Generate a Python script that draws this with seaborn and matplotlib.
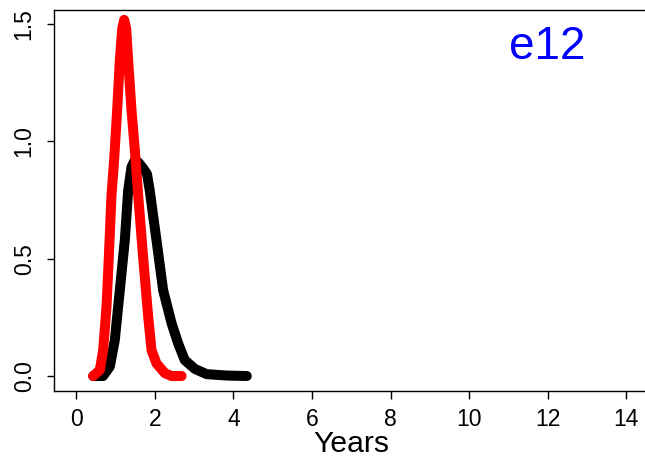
import matplotlib
matplotlib.use("Agg")
import matplotlib.pyplot as plt
import seaborn as sns
import pandas as pd

# Density curves over time (years)
black_years = [0.43, 0.68, 0.853, 0.98, 1.108, 1.236, 1.32, 1.405, 1.49, 1.58, 1.70,
               1.80, 1.87, 1.95, 2.04, 2.21, 2.425, 2.59, 2.76, 3.02, 3.32, 3.83, 4.34]
black_density = [0.0, 0.0, 0.04, 0.153, 0.366, 0.58, 0.79, 0.89, 0.92, 0.91, 0.885,
                 0.86, 0.79, 0.69, 0.58, 0.366, 0.225, 0.14, 0.068, 0.03, 0.008, 0.002, 0.0]

red_years = [0.43, 0.60, 0.683, 0.769, 0.828, 0.896, 0.963, 1.04, 1.108, 1.17, 1.218,
             1.27, 1.32, 1.405, 1.49, 1.575, 1.70, 1.83, 1.915, 2.04, 2.255, 2.425, 2.68]
red_density = [0.0, 0.026, 0.11, 0.295, 0.508, 0.77, 0.92, 1.133, 1.346, 1.48, 1.517,
               1.48, 1.346, 1.133, 0.963, 0.77, 0.508, 0.253, 0.11, 0.054, 0.012, 0.0, 0.0]

x_ticks = [0, 2, 4, 6, 8, 10, 12, 14]
y_ticks = [0.0, 0.5, 1.0, 1.5]
y_tick_labels = ["0.0", "0.5", "1.0", "1.5"]
panel_label = "e12"

sns.set_style("white")
plt.rcParams["font.family"] = ["Liberation Sans", "DejaVu Sans"]
plt.rcParams["text.color"] = "black"
plt.rcParams["axes.labelcolor"] = "black"

fig = plt.figure(figsize=(6.45, 4.61), dpi=100)
ax = fig.add_axes([0.0842, 0.1525, 1.005 - 0.0842, 0.9783 - 0.1525])

black_df = pd.DataFrame({"Years": black_years, "Density": black_density})
red_df = pd.DataFrame({"Years": red_years, "Density": red_density})

line_kw = dict(linewidth=7.2, solid_capstyle="round", solid_joinstyle="round",
               sort=False, legend=False)
sns.lineplot(data=black_df, x="Years", y="Density", color="black", ax=ax, **line_kw)
sns.lineplot(data=red_df, x="Years", y="Density", color="#ff0000", ax=ax, **line_kw)

ax.set_xlim(-0.56, 14.56)
ax.set_ylim(-0.0625, 1.559)

ax.set_xticks(x_ticks)
ax.set_xticklabels([str(t) for t in x_ticks])
ax.set_yticks(y_ticks)
ax.set_yticklabels(y_tick_labels, rotation=90, va="center")

ax.tick_params(axis="both", direction="out", length=5.4, width=1.0,
               color="black", labelsize=16.5, labelcolor="black")
ax.tick_params(axis="x", pad=7)
ax.tick_params(axis="y", pad=8)
ax.xaxis.set_ticks_position("bottom")
ax.yaxis.set_ticks_position("left")

for side in ["left", "bottom", "top", "right"]:
    ax.spines[side].set_visible(True)
    ax.spines[side].set_color("black")
    ax.spines[side].set_linewidth(1.0)

ax.set_xlabel("Years", fontsize=21.7, va="baseline", color="black")
ax.xaxis.set_label_coords(0.5, -0.160)
ax.set_ylabel("")

ax.text(12, 1.40, panel_label, color="#0000ff", fontsize=33,
        ha="center", va="center")

fig.savefig("out.png", dpi=100)
